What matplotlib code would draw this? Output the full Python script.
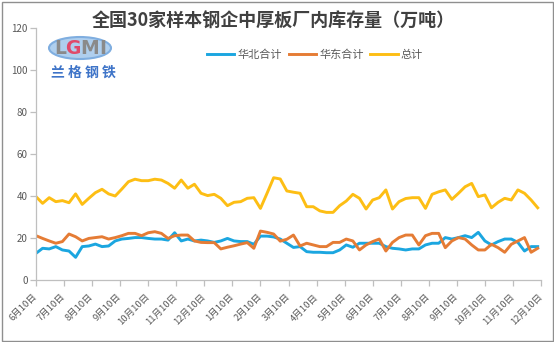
import numpy as np
import matplotlib
matplotlib.use('Agg')
import matplotlib.pyplot as plt
from matplotlib.patches import Ellipse, Rectangle

plt.rcParams['font.family'] = ['Noto Sans CJK SC', 'DejaVu Sans']

title = '全国30家样本钢企中厚板厂内库存量（万吨）'
series_names = ['华北合计', '华东合计', '总计']
month_labels = ['6月10日', '7月10日', '8月10日', '9月10日', '10月10日', '11月10日',
                '12月10日', '1月10日', '2月10日', '3月10日', '4月10日', '5月10日',
                '6月10日', '7月10日', '8月10日', '9月10日', '10月10日', '11月10日',
                '12月10日']

north = [12.7, 15.1, 14.8, 15.9, 14.3, 13.8, 10.8, 15.9, 16.2, 17.1,
         15.9, 16.2, 18.6, 19.5, 19.8, 20.2, 20.2, 19.8, 19.5, 19.5,
         19.0, 22.5, 18.6, 19.5, 18.6, 19.0, 18.6, 17.9, 18.6, 19.8,
         18.6, 18.3, 18.3, 17.0, 20.9, 20.9, 20.5, 19.5, 17.5, 15.5,
         15.9, 13.5, 13.2, 13.2, 13.0, 13.0, 14.3, 16.7, 15.6, 17.5,
         17.5, 17.5, 17.5, 15.9, 15.1, 14.8, 14.3, 14.8, 14.8, 16.7,
         17.5, 17.5, 20.2, 19.5, 20.2, 21.1, 20.2, 22.7, 18.6, 16.7,
         18.3, 19.5, 19.5, 17.9, 13.8, 15.9, 15.9]

east = [21.1, 19.8, 18.6, 17.5, 18.3, 21.9, 20.6, 18.6, 19.8, 20.2,
        20.6, 19.5, 20.2, 21.1, 22.2, 22.2, 21.1, 22.5, 23.0, 22.2,
        19.8, 21.1, 21.4, 21.4, 18.6, 17.9, 17.8, 17.8, 14.8, 15.6,
        16.3, 17.1, 17.8, 15.1, 23.3, 22.7, 21.9, 18.5, 19.4, 21.4,
        16.2, 17.5, 16.7, 15.9, 15.9, 17.9, 17.9, 19.5, 18.6, 14.3,
        16.7, 18.3, 19.5, 13.8, 17.9, 20.2, 21.4, 21.4, 16.7, 21.1,
        22.2, 22.2, 15.4, 18.6, 20.2, 19.5, 16.7, 14.3, 14.3, 17.0,
        15.4, 13.2, 17.0, 18.6, 20.2, 13.2, 15.1]

total = [39.7, 36.5, 39.2, 37.3, 37.8, 36.8, 41.0, 36.0, 38.9, 41.6,
         43.2, 41.0, 40.0, 43.3, 46.8, 48.0, 47.3, 47.3, 48.0, 47.6,
         46.0, 43.7, 47.6, 43.7, 45.6, 41.3, 40.2, 40.8, 38.9, 35.4,
         37.0, 37.3, 38.9, 39.2, 34.1, 41.3, 48.7, 48.1, 42.4, 41.8,
         41.3, 34.9, 34.9, 32.9, 32.2, 32.2, 35.4, 37.6, 40.8, 38.9,
         33.8, 38.1, 39.2, 42.9, 33.8, 37.3, 38.8, 39.2, 39.2, 34.1,
         40.8, 42.0, 42.9, 38.4, 41.3, 44.4, 46.0, 39.7, 40.5, 34.4,
         37.0, 38.9, 38.1, 42.9, 41.3, 38.1, 34.4]

colors = ['#1BA6E0', '#E57C35', '#FDBE14']
grey = '#595959'
axis_grey = '#BFBFBF'

W, H = 554, 342
fig = plt.figure(figsize=(W / 100, H / 100), dpi=100)
ax = fig.add_axes([36 / W, 62 / H, 505 / W, 252 / H])

x = np.arange(len(total))
weeks_per_month = 4.25
ticks = np.arange(len(month_labels)) * weeks_per_month

for vals, c, name in zip([north, east, total], colors, series_names):
    ax.plot(x, vals, color=c, lw=2.1, label=name, solid_joinstyle='round')

ax.set_xlim(0, ticks[-1])
ax.set_ylim(0, 120)
ax.set_yticks(range(0, 121, 20))
ax.set_xticks(ticks)
ax.set_xticklabels(month_labels, rotation=45, ha='right', va='center',
                   rotation_mode='anchor')
for s in ['top', 'right']:
    ax.spines[s].set_visible(False)
for s in ['left', 'bottom']:
    ax.spines[s].set_color(axis_grey)
    ax.spines[s].set_linewidth(0.9)
ax.tick_params(axis='both', direction='out', length=4, width=0.9,
               color=axis_grey, labelcolor=grey)
ax.tick_params(axis='y', labelsize=7, pad=2)
ax.tick_params(axis='x', labelsize=6.8, pad=7)

fig.text(273 / W, 1 - 21 / H, title, ha='center', va='center',
         fontsize=13, fontweight='bold', color='#404040')

leg = fig.legend(loc='center', bbox_to_anchor=(315 / W, 1 - 55 / H), ncol=3,
                 frameon=False, fontsize=8, handlelength=2.45,
                 handletextpad=0.3, columnspacing=0.6)
for t in leg.get_texts():
    t.set_color(grey)

# logo
ell = Ellipse((80 / W, 1 - 48 / H), 62 / W, 22 / H, transform=fig.transFigure,
              facecolor='#AFCFEE', edgecolor='#7FAEE0', lw=1.5)
fig.patches.append(ell)
for ch, cx, col in [('L', 60, '#8A8A8A'), ('G', 73, '#E04A6A'),
                    ('M', 90, '#8A8A8A'), ('I', 103, '#8A8A8A')]:
    fig.text(cx / W, 1 - 48 / H, ch, ha='center', va='center', fontsize=13.5,
             fontweight='bold', color=col, family='DejaVu Sans')
fig.text(83 / W, 1 - 73 / H, '兰 格 钢 铁', ha='center', va='center',
         fontsize=10, color='#3E74C8', fontweight='bold')

fig.patches.append(Rectangle((1.5 / W, 1.5 / H), (W - 3) / W, (H - 3) / H,
                             fill=False, edgecolor='#8F8F8F', lw=1,
                             transform=fig.transFigure))

fig.savefig('out.png', dpi=100)
